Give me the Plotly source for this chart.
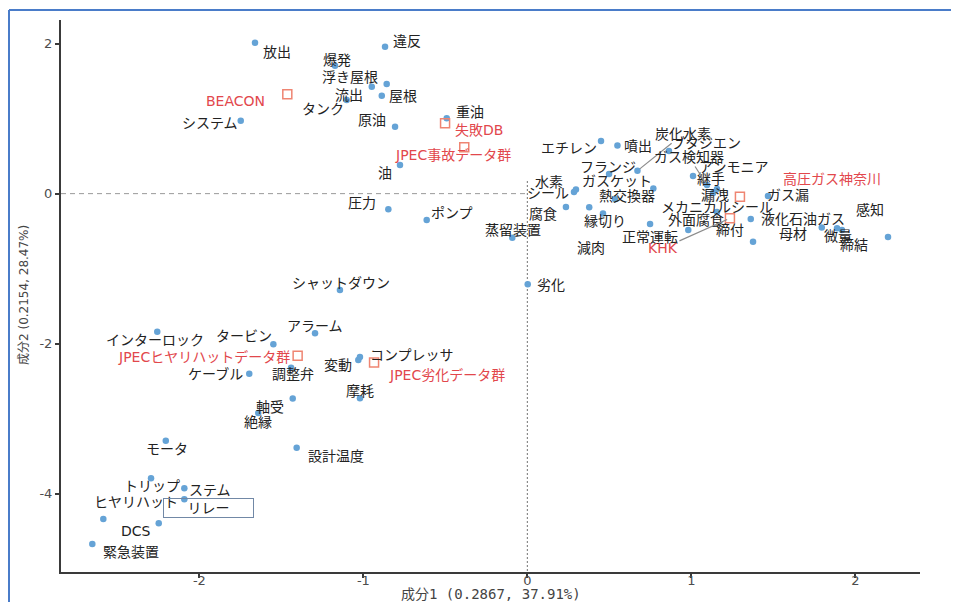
import plotly.graph_objects as go

# ---------------- data (correspondence analysis coordinates) ----------------
term_labels = ["放出", "違反", "爆発", "浮き屋根", "流出", "屋根", "タンク", "システム", "原油", "重油",
               "油", "圧力", "ポンプ", "蒸留装置", "シャットダウン", "劣化", "インターロック", "タービン",
               "アラーム", "変動", "コンプレッサ", "ケーブル", "調整弁", "摩耗", "軸受", "絶縁", "モータ",
               "設計温度", "トリップ", "ステム", "ヒヤリハット", "リレー", "DCS", "緊急装置",
               "エチレン", "噴出", "ブタジエン", "炭化水素", "フランジ", "シール", "水素", "ガスケット",
               "熱交換器", "腐食", "減肉", "縁切り", "正常運転", "外面腐食", "継手", "ガス検知器",
               "アンモニア", "漏洩", "メカニカルシール", "液化石油ガス", "締付", "ガス漏", "母材", "微量",
               "締結", "感知"]
term_x = [-1.661, -0.868, -1.173, -0.858, -0.949, -0.888, -1.102, -1.748, -0.807, -0.492,
          -0.777, -0.848, -0.614, -0.092, -1.143, 0.002, -2.257, -1.549,
          -1.295, -1.031, -1.021, -1.696, -1.441, -1.021, -1.431, -1.641, -2.205,
          -1.407, -2.295, -2.092, -2.586, -2.092, -2.248, -2.653,
          0.449, 0.549, 0.863, 0.671, 0.498, 0.284, 0.296, 0.768,
          0.534, 0.235, 0.377, 0.461, 0.748, 0.981, 1.010, 1.095,
          1.156, 1.132, 1.156, 1.362, 1.376, 1.467, 1.795, 1.888,
          1.918, 2.199]
term_y = [2.012, 1.959, 1.705, 1.461, 1.425, 1.305, 1.248, 0.972, 0.892, 1.004,
          0.381, -0.209, -0.352, -0.588, -1.285, -1.209, -1.841, -2.009,
          -1.863, -2.219, -2.179, -2.401, -2.321, -2.729, -2.732, -2.925, -3.295,
          -3.388, -3.796, -3.929, -4.339, -4.076, -4.396, -4.672,
          0.701, 0.641, 0.568, 0.305, 0.261, 0.021, 0.055, 0.068,
          -0.072, -0.179, -0.183, -0.265, -0.405, -0.485, 0.235, 0.115,
          0.061, 0.008, -0.245, -0.339, -0.641, -0.032, -0.452, -0.463,
          -0.485, -0.579]

source_labels = ["BEACON", "失敗DB", "JPEC事故データ群", "JPECヒヤリハットデータ群",
                 "JPEC劣化データ群", "高圧ガス神奈川", "KHK"]
source_x = [-1.464, -0.502, -0.385, -1.401, -0.935, 1.296, 1.235]
source_y = [1.324, 0.937, 0.617, -2.161, -2.252, -0.041, -0.329]

x_tick_vals = [-2, -1, 0, 1, 2]
x_tick_text = ["-2", "-1", "0", "1", "2"]
y_tick_vals = [2, 0, -2, -4]
y_tick_text = ["2", "0", "-2", "-4"]

x_title = "成分1 (0.2867, 37.91%)"
y_title = "成分2 (0.2154, 28.47%)"

# ---------------- label placement (repelled label offsets, px: right, down) ----------------
term_label_offsets = {
    "放出": (22, 9), "違反": (22, -6), "爆発": (2, -6), "浮き屋根": (-37, -7), "流出": (-23, 8),
    "屋根": (21, 0), "タンク": (-24, 9), "システム": (-31, 2), "原油": (-23, -7), "重油": (23, -6),
    "油": (-15, 8), "圧力": (-26, -6), "ポンプ": (25, -7), "蒸留装置": (1, -8), "シャットダウン": (1, -7),
    "劣化": (23, 1), "インターロック": (-2, 8), "タービン": (-29, -8), "アラーム": (0, -7),
    "変動": (-20, 5), "コンプレッサ": (52, -2), "ケーブル": (-34, 0), "調整弁": (2, 6), "摩耗": (0, -7),
    "軸受": (-23, 8), "絶縁": (0, 9), "モータ": (1, 8), "設計温度": (39, 8), "トリップ": (1, 8),
    "ステム": (26, 2), "ヒヤリハット": (33, -17), "リレー": (24, 9), "DCS": (-23, 8), "緊急装置": (39, 8),
    "エチレン": (-32, 7), "噴出": (21, 0), "ブタジエン": (37, -8), "炭化水素": (46, -37),
    "フランジ": (-1, -7), "シール": (-26, 1), "水素": (-27, -8), "ガスケット": (-36, -8),
    "熱交換器": (12, -3), "腐食": (-23, 7), "減肉": (2, 41), "縁切り": (2, 7), "正常運転": (0, 13),
    "外面腐食": (8, -10), "継手": (18, 3), "ガス検知器": (-18, -28), "アンモニア": (17, -22),
    "漏洩": (2, 2), "メカニカルシール": (0, -5), "液化石油ガス": (52, 0), "締付": (-23, -12),
    "ガス漏": (20, -1), "母材": (-29, 6), "微量": (1, 8), "締結": (12, 15), "感知": (-18, -27),
}
source_label_offsets = {
    "BEACON": (-52, 7), "失敗DB": (34, 7), "JPEC事故データ群": (-11, 8),
    "JPECヒヤリハットデータ群": (-94, 1), "JPEC劣化データ群": (73, 12),
    "高圧ガス神奈川": (92, -18), "KHK": (-67, 30),
}
segment_labels = {"炭化水素", "ガス検知器", "KHK"}
boxed_labels = {"リレー"}

# ---------------- style / geometry ----------------
PAGE_W, PAGE_H = 959, 602
OFF = 8                      # default page margin around the plot div
W, H = PAGE_W - OFF, PAGE_H - OFF
ML, MR, MT, MB = 61 - OFF, 39, 20 - OFF, 30
PW, PH = W - ML - MR, H - MT - MB
FONT = "DejaVu Sans, Noto Sans CJK JP, sans-serif"
TITLE_FONT = "DejaVu Sans Mono, Noto Sans CJK JP, monospace"
BLUE = "#65A3D6"
RED_TXT = "#E2474C"
RED_MK = "#EF8572"
AXIS = "#3a3a3a"
X_RANGE = [-2.844, 2.394]
Y_RANGE = [-5.045, 2.315]


def px_to_paper_x(px):
    """page pixel -> paper fraction"""
    return (px - OFF - ML) / PW


def px_to_paper_y(py):
    return (OFF + MT + PH - py) / PH


fig = go.Figure()

fig.add_trace(go.Scatter(
    x=term_x, y=term_y, mode="markers",
    marker=dict(color=BLUE, size=6.5, line=dict(width=0)),
    hoverinfo="skip", showlegend=False))

fig.add_trace(go.Scatter(
    x=source_x, y=source_y, mode="markers",
    marker=dict(symbol="square-open", color=RED_MK, size=9, line=dict(width=1.5, color=RED_MK)),
    hoverinfo="skip", showlegend=False))

annotations = []


def add_label(lab, xv, yv, off, color):
    seg = lab in segment_labels
    ann = dict(
        x=xv, y=yv, xref="x", yref="y", text=lab,
        showarrow=True, ax=off[0], ay=off[1], arrowhead=0,
        arrowwidth=1.2 if seg else 0.1,
        arrowcolor="#8c8c8c" if seg else "rgba(0,0,0,0)",
        standoff=3 if seg else 0, startstandoff=0,
        font=dict(family=FONT, size=14, color=color),
    )
    if lab in boxed_labels:
        ann.update(bordercolor="#7188a6", borderwidth=1, width=86, height=15, borderpad=1.5)
    annotations.append(ann)


for lab, xv, yv in zip(term_labels, term_x, term_y):
    add_label(lab, xv, yv, term_label_offsets[lab], "#222222")
for lab, xv, yv in zip(source_labels, source_x, source_y):
    add_label(lab, xv, yv, source_label_offsets[lab], RED_TXT)

# axis titles
annotations.append(dict(x=0.5, y=px_to_paper_y(594), xref="paper", yref="paper", text=x_title,
                        showarrow=False, xanchor="center", yanchor="middle",
                        font=dict(family=TITLE_FONT, size=14, color="#444444")))
annotations.append(dict(x=px_to_paper_x(24), y=px_to_paper_y(295), xref="paper", yref="paper",
                        text=y_title, showarrow=False, xanchor="center", yanchor="middle",
                        textangle=-90,
                        font=dict(family=FONT, size=12, color="#444444")))

shapes = [
    # reference lines at origin
    dict(type="line", xref="x", yref="y", x0=X_RANGE[0], x1=0, y0=0, y1=0,
         line=dict(color="#9a9a9a", width=1, dash="5px,4px"), layer="below"),
    dict(type="line", xref="x", yref="y", x0=0, x1=0, y0=0.17, y1=Y_RANGE[0],
         line=dict(color="#8a8a8a", width=1.2, dash="2px,2px"), layer="below"),
    # outer blue frame (top and left)
    dict(type="line", xref="paper", yref="paper", x0=px_to_paper_x(9), x1=px_to_paper_x(PAGE_W),
         y0=px_to_paper_y(10), y1=px_to_paper_y(10), line=dict(color="#4A7CC9", width=2)),
    dict(type="line", xref="paper", yref="paper", x0=px_to_paper_x(9), x1=px_to_paper_x(9),
         y0=px_to_paper_y(10), y1=px_to_paper_y(PAGE_H), line=dict(color="#4A7CC9", width=2)),
]

fig.update_layout(
    width=W, height=H,
    margin=dict(l=ML, r=MR, t=MT, b=MB, autoexpand=False),
    paper_bgcolor="white", plot_bgcolor="white",
    font=dict(family=FONT, color="#333333"),
    annotations=annotations, shapes=shapes,
    xaxis=dict(range=X_RANGE, showgrid=False, zeroline=False, showline=True, linecolor=AXIS,
               linewidth=2, ticks="outside", ticklen=4, tickwidth=1.5, tickcolor=AXIS,
               tickvals=x_tick_vals, ticktext=x_tick_text, ticklabelstandoff=-9,
               tickfont=dict(family=FONT, size=13, color="#4d4d4d")),
    yaxis=dict(range=Y_RANGE, showgrid=False, zeroline=False, showline=True, linecolor=AXIS,
               linewidth=2, ticks="outside", ticklen=4, tickwidth=1.5, tickcolor=AXIS,
               tickvals=y_tick_vals, ticktext=y_tick_text,
               tickfont=dict(family=FONT, size=13, color="#4d4d4d")),
)

fig.write_html("out.html")
